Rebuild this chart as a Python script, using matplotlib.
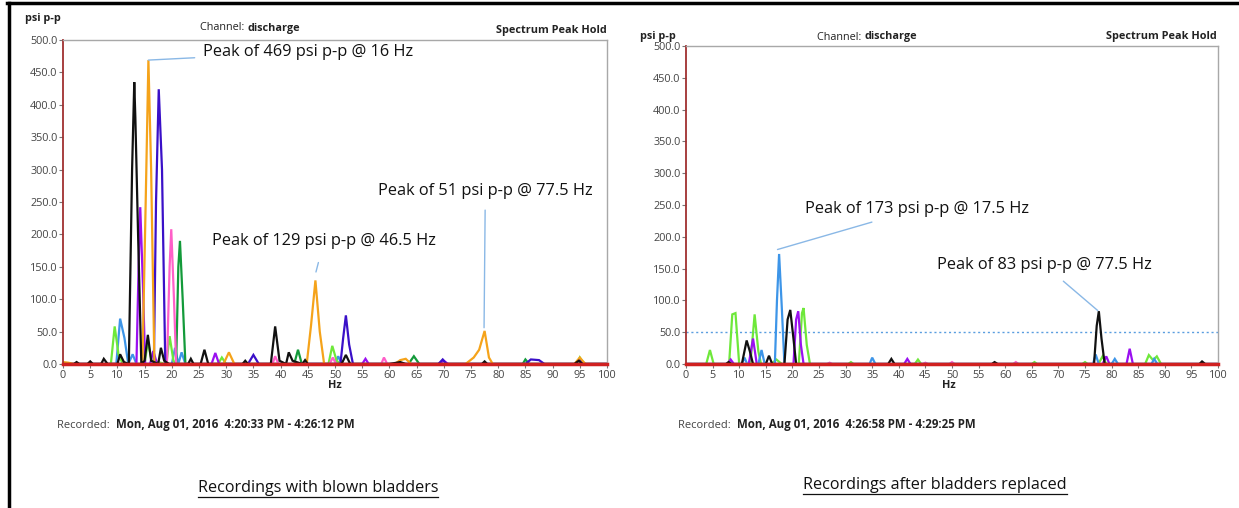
import numpy as np
import matplotlib
matplotlib.use("Agg")
import matplotlib.pyplot as plt
from matplotlib.lines import Line2D

# ---- data: (Hz, psi p-p) vertices of each trace ----
# left: recordings with blown bladders
L_BLACK = [(0, 0), (2, 0), (2.5, 3), (3, 0), (4.5, 0), (5, 4), (5.5, 0), (7, 0), (7.5, 8), (8.2, 0),
           (10, 0), (10.5, 15), (11.2, 3), (12.1, 0), (12.7, 300), (13.1, 435), (13.3, 380), (13.8, 200),
           (14.4, 0), (15, 5), (15.6, 45), (16.2, 5), (17.5, 0), (18, 25), (18.6, 5), (19.5, 0), (23, 0),
           (23.5, 8), (24, 0), (25.3, 0), (26, 22), (26.7, 0), (33, 0), (33.5, 5), (34, 0), (38.2, 0),
           (39, 58), (39.8, 5), (41, 0), (41.5, 18), (42.2, 5), (44, 0), (44.5, 6), (45, 0), (51.2, 0),
           (52, 14), (52.8, 0), (60, 0), (62, 3), (63, 0), (77, 0), (77.5, 4), (78, 0), (94, 0),
           (94.8, 5), (95.5, 0), (100, 0)]
L_ORANGE = [(0, 3), (1, 2), (2, 0), (14.6, 0), (15.2, 250), (15.7, 469), (16.2, 300), (16.8, 0),
            (29.5, 0), (30.5, 18), (31.5, 0), (44.8, 0), (45.6, 60), (46.4, 129), (47.2, 50), (48, 0),
            (61, 0), (62, 6), (63, 8), (64, 0), (74, 0), (75.5, 10), (76.5, 22), (77.5, 51), (78.3, 10),
            (79, 0), (94, 0), (95, 10), (96, 0), (100, 0)]
L_INDIGO = [(0, 0), (16.7, 0), (17.1, 250), (17.6, 424), (18.2, 300), (18.8, 0), (34, 0), (35, 14),
            (36, 0), (51, 0), (51.5, 40), (52, 75), (52.6, 30), (53.3, 0), (69, 0), (69.8, 7), (70.5, 0),
            (85, 0), (86, 7), (87.5, 6), (88.5, 0), (94, 0), (95, 7), (96, 0), (100, 0)]
L_VIOLET = [(0, 0), (13.5, 0), (13.9, 150), (14.2, 242), (14.7, 120), (15.1, 0), (16, 0), (16.6, 20),
            (17.3, 0), (27.3, 0), (28, 17), (28.7, 0), (55, 0), (55.6, 8), (56.2, 0), (69, 0), (70, 5),
            (70.8, 0), (100, 0)]
L_PINK = [(0, 0), (19.1, 0), (19.6, 150), (19.9, 208), (20.4, 100), (20.8, 0), (38.5, 0), (39, 12),
          (39.6, 0), (49, 0), (49.6, 10), (50.2, 0), (58.5, 0), (59, 10), (59.6, 0), (100, 0)]
L_GREEN = [(0, 0), (20.8, 0), (21.2, 150), (21.5, 190), (22, 100), (22.5, 0), (42.5, 0), (43.2, 22),
           (43.9, 0), (63.5, 0), (64.5, 12), (65.5, 0), (84.5, 0), (85, 7), (85.7, 0), (100, 0)]
L_LIME = [(0, 0), (8.8, 0), (9.5, 58), (10.2, 15), (11, 0), (15, 0), (15.6, 35), (16.3, 5), (19, 0),
          (19.6, 43), (20.3, 5), (21, 0), (28.5, 0), (29.2, 10), (30, 0), (48.8, 0), (49.5, 28),
          (50.3, 5), (51, 0), (94.5, 0), (95, 10), (95.8, 0), (100, 0)]
L_SKY = [(0, 0), (9.8, 0), (10.5, 70), (11.3, 40), (12, 0), (12.8, 15), (13.5, 0), (20, 0), (20.6, 25),
         (21.2, 0), (21.8, 18), (22.5, 0), (50, 0), (50.6, 12), (51.2, 0), (100, 0)]

# right: recordings after bladders replaced
R_SKY = [(0, 0), (10.5, 0), (11, 10), (11.5, 0), (13.6, 0), (14.2, 22), (14.8, 0), (16.7, 0),
         (17.1, 100), (17.5, 173), (18, 90), (18.5, 0), (34.5, 0), (35, 10), (35.6, 0), (76.5, 0),
         (77, 15), (77.6, 0), (80, 0), (80.6, 8), (81.2, 0), (87.5, 0), (88, 8), (88.6, 0), (100, 0)]
R_BLACK = [(0, 0), (7.5, 0), (8, 3), (8.6, 0), (10.5, 0), (11.4, 37), (12, 20), (12.6, 0), (15, 0),
           (15.6, 13), (16.2, 0), (18.5, 0), (19.1, 70), (19.6, 85), (20.2, 40), (20.7, 0), (38, 0),
           (38.6, 8), (39.2, 0), (57.5, 0), (58, 3), (58.6, 0), (76.7, 0), (77.2, 60), (77.6, 83),
           (78.1, 40), (78.7, 0), (96.5, 0), (97, 4), (97.6, 0), (100, 0)]
R_VIOLET = [(0, 0), (7.8, 0), (8.4, 7), (9, 0), (11.8, 0), (12.6, 40), (13.3, 0), (20.2, 0), (20.7, 70),
            (21.1, 83), (21.6, 30), (22.1, 0), (41, 0), (41.6, 8), (42.2, 0), (78.3, 0), (79, 12),
            (79.6, 0), (82.8, 0), (83.4, 24), (84, 0), (100, 0)]
R_LIME = [(0, 0), (3.8, 0), (4.5, 22), (5.2, 0), (8.1, 0), (8.7, 78), (9.3, 80), (10, 0), (12.1, 0),
          (12.9, 78), (13.6, 20), (14.1, 0), (16, 0), (17, 7), (18, 0), (21.2, 0), (21.8, 80), (22.1, 88),
          (22.7, 30), (23.3, 0), (30.5, 0), (31, 3), (31.5, 0), (43, 0), (43.6, 7), (44.2, 0), (65, 0),
          (65.5, 3), (66, 0), (74.5, 0), (75, 3), (75.5, 0), (77.5, 0), (78.3, 12), (79, 0), (86.3, 0),
          (87, 14), (87.8, 6), (88.5, 12), (89.3, 0), (100, 0)]
R_PINK = [(0, 0), (26.5, 0), (27, 2), (27.5, 0), (44.5, 0), (45, 2), (45.5, 0), (49.5, 0), (50, 3),
          (50.5, 0), (61.5, 0), (62, 3), (62.5, 0), (100, 0)]
BASELINE = [(0, 0), (100, 0)]
THRESHOLD = 50

LEFT_RECORDED = "Mon, Aug 01, 2016  4:20:33 PM - 4:26:12 PM"
RIGHT_RECORDED = "Mon, Aug 01, 2016  4:26:58 PM - 4:29:25 PM"

C = {'black': '#111111', 'orange': '#f5a31a', 'indigo': '#3a10c8', 'violet': '#9a10f0',
     'pink': '#ff5fc8', 'green': '#139a3a', 'lime': '#6ee83a', 'sky': '#3d95e8', 'red': '#d02020'}
NOTE_LINE = '#8ab8e6'
W, H = 1239, 508


def px(x, y):
    # reference pixel (from top-left) -> figure fraction
    return x / W, 1 - y / H


def draw(ax, traces):
    for pts, col in traces:
        a = np.array(pts, dtype=float)
        ax.plot(a[:, 0], a[:, 1], color=col, lw=1.6, solid_joinstyle='miter')
    a = np.array(BASELINE, dtype=float)
    ax.plot(a[:, 0], a[:, 1], color=C['red'], lw=2.5, zorder=5, clip_on=False)
    ax.set_xlim(0, 100)
    ax.set_ylim(0, 500)
    ax.set_xticks(range(0, 101, 5))
    ax.set_yticks(range(0, 501, 50))
    ax.set_yticklabels(["%.1f" % v for v in range(0, 501, 50)])
    ax.tick_params(labelsize=7.8, labelcolor='#444444', color='#777777', length=3, width=0.8, pad=1)
    for s in ('top', 'right'):
        ax.spines[s].set_color('#a8a8a8')
        ax.spines[s].set_linewidth(1)
    ax.spines['left'].set_color('#a03030')
    ax.spines['left'].set_linewidth(1.3)
    ax.spines['bottom'].set_color(C['red'])
    ax.spines['bottom'].set_linewidth(1.3)


fig = plt.figure(figsize=(W / 100, H / 100), dpi=100)
plt.rcParams['font.family'] = ['Open Sans', 'DejaVu Sans']

x0, y0 = px(63, 364)
x1, y1 = px(607, 40)
axl = fig.add_axes([x0, y0, x1 - x0, y1 - y0])
x0, y0 = px(686, 364)
x1, y1 = px(1218, 46)
axr = fig.add_axes([x0, y0, x1 - x0, y1 - y0])

draw(axl, [(L_SKY, C['sky']), (L_LIME, C['lime']), (L_GREEN, C['green']), (L_PINK, C['pink']),
           (L_VIOLET, C['violet']), (L_INDIGO, C['indigo']), (L_ORANGE, C['orange']), (L_BLACK, C['black'])])
draw(axr, [(R_PINK, C['pink']), (R_LIME, C['lime']), (R_VIOLET, C['violet']), (R_SKY, C['sky']),
           (R_BLACK, C['black'])])
axr.axhline(THRESHOLD, color='#5a9ee0', ls=(0, (1.5, 2)), lw=1, zorder=1)

# header / footer texts for each panel
small = dict(fontsize=7.8, color='#222222')
for (ylab, chan, spec, hz, rec, cap, caption) in [
        ((25, 18), (200, 28), (607, 30), (335, 386), (57, 428), (318, 488), "Recordings with blown bladders"),
        ((640, 36), (817, 37), (1217, 37), (949, 386), (678, 428), (935, 485), "Recordings after bladders replaced")]:
    fig.text(*px(*ylab), "psi p-p", fontweight='bold', va='center', ha='left', **small)
    t = fig.text(*px(*chan), "Channel: ", va='center', ha='left', **small)
    fig.canvas.draw()
    bb = t.get_window_extent()
    fig.text(bb.x1 / W, px(*chan)[1], "discharge", fontweight='bold', va='center', ha='left', **small)
    fig.text(*px(*spec), "Spectrum Peak Hold", fontweight='bold', va='center', ha='right', **small)
    fig.text(*px(*hz), "Hz", fontweight='bold', va='center', ha='center', **small)
    t = fig.text(*px(*rec), "Recorded:  ", va='baseline', ha='left', fontsize=8.0, color='#444444')
    fig.canvas.draw()
    bb = t.get_window_extent()
    fig.text(bb.x1 / W, px(*rec)[1], LEFT_RECORDED if rec[0] < 600 else RIGHT_RECORDED,
             fontweight='bold', va='baseline', ha='left', fontsize=8.3, color='#222222')
    t = fig.text(*px(*cap), caption, va='center', ha='center', fontsize=11.6, color='#111111')
    fig.canvas.draw()
    bb = t.get_window_extent()
    fig.add_artist(Line2D([bb.x0 / W, bb.x1 / W], [(bb.y0 - 1) / H] * 2, color='#111111', lw=0.9))

# peak notes
note = dict(fontsize=11.8, color='#111111', va='center', ha='left', textcoords='figure pixels')
axl.annotate("Peak of 469 psi p-p @ 16 Hz", xy=(15.7, 469), xytext=(203, H - 52),
             arrowprops=dict(arrowstyle='-', color=NOTE_LINE, lw=1, shrinkA=4, shrinkB=0), **note)
axl.annotate("Peak of 129 psi p-p @ 46.5 Hz", xy=(46.5, 142), xytext=(212, H - 241),
             arrowprops=dict(arrowstyle='-', color=NOTE_LINE, lw=1, shrinkA=8, shrinkB=0), **note)
axl.annotate("Peak of 51 psi p-p @ 77.5 Hz", xy=(77.4, 56), xytext=(378, H - 191),
             arrowprops=dict(arrowstyle='-', color=NOTE_LINE, lw=1, shrinkA=6, shrinkB=0), **note)
axr.annotate("Peak of 173 psi p-p @ 17.5 Hz", xy=(17.2, 180), xytext=(805, H - 209),
             arrowprops=dict(arrowstyle='-', color=NOTE_LINE, lw=1, shrinkA=6, shrinkB=0), **note)
axr.annotate("Peak of 83 psi p-p @ 77.5 Hz", xy=(77.4, 84), xytext=(937, H - 265),
             arrowprops=dict(arrowstyle='-', color=NOTE_LINE, lw=1, shrinkA=6, shrinkB=0), **note)

# black frame at left and top of the picture
fig.add_artist(Line2D([8.5 / W, 8.5 / W], [0, 1 - 3 / H], color='black', lw=2.5))
fig.add_artist(Line2D([7 / W, 1], [1 - 3 / H, 1 - 3 / H], color='black', lw=2.5))

fig.savefig("out.png", dpi=100)
